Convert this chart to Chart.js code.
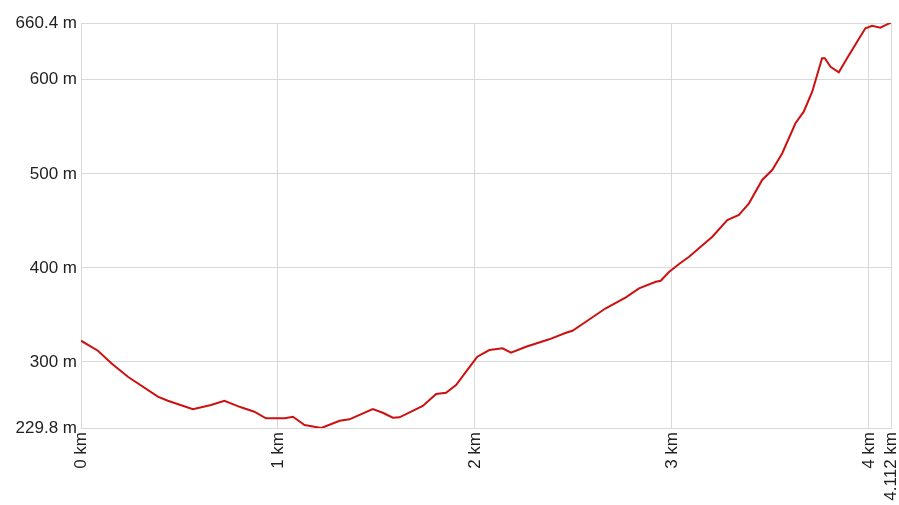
<!DOCTYPE html>
<html>
<head>
<meta charset="utf-8">
<script src="https://cdn.jsdelivr.net/npm/chart.js@4/dist/chart.umd.min.js"></script>
<style>
  html, body { margin: 0; padding: 0; background: #fff; }
  #wrap { width: 899px; height: 505px; }
</style>
</head>
<body>
<div id="wrap"><canvas id="profile"></canvas></div>
<script>
var distKm = [0, 0.086, 0.154, 0.238, 0.390, 0.441, 0.568, 0.660, 0.728, 0.812, 0.880, 0.939,
  1.034, 1.076, 1.135, 1.220, 1.313, 1.363, 1.481, 1.532, 1.583, 1.617, 1.735, 1.803, 1.853,
  1.904, 1.972, 2.012, 2.073, 2.140, 2.183, 2.259, 2.377, 2.462, 2.495, 2.563, 2.664, 2.766,
  2.833, 2.918, 2.943, 2.985, 3.036, 3.087, 3.205, 3.281, 3.340, 3.391, 3.458, 3.509, 3.560,
  3.627, 3.669, 3.712, 3.762, 3.776, 3.805, 3.847, 3.889, 3.940, 3.982, 4.016, 4.058, 4.100, 4.112];
var elevM = [322.6, 312.0, 298.6, 284.3, 263.1, 258.8, 249.7, 254.2, 258.8, 251.8, 247.1, 240.1,
  240.1, 241.8, 233.0, 229.8, 237.5, 239.0, 250.0, 246.0, 240.7, 241.2, 253.2, 265.9, 267.3,
  275.5, 294.6, 305.6, 312.7, 314.5, 309.8, 316.2, 324.1, 331.1, 333.2, 342.8, 357.1, 368.7,
  378.3, 385.3, 386.4, 395.6, 404.2, 411.9, 433.2, 450.9, 456.3, 468.7, 493.5, 504.1, 521.9,
  553.8, 566.1, 587.4, 622.9, 622.9, 613.9, 608.0, 622.9, 640.5, 654.8, 657.5, 655.4, 659.7, 660.4];
var xTicks = [0, 1, 2, 3, 4, 4.112];
var yTicks = [229.8, 300, 400, 500, 600, 660.4];

var points = distKm.map(function (d, i) { return { x: d, y: elevM[i] }; });

function fixedTicks(list) {
    return function (scale) {
        scale.ticks = list.map(function (v) { return { value: v }; });
    };
}

new Chart(document.getElementById('profile'), {
    type: 'line',
    data: {
        datasets: [{ data: points, borderColor: '#cc1111', borderWidth: 2, pointRadius: 0, tension: 0, fill: false }]
    },
    options: {
        responsive: true,
        maintainAspectRatio: false,
        animation: false,
        layout: { padding: { top: 23, right: 8, left: 0, bottom: 0 } },
        plugins: { legend: { display: false }, tooltip: { enabled: false } },
        scales: {
            x: {
                type: 'linear', min: 0, max: 4.112,
                afterBuildTicks: fixedTicks(xTicks),
                afterFit: function (scale) { scale.height = 77; scale.paddingLeft = 0; scale.paddingRight = 0; },
                grid: { color: '#d9d9d9', drawTicks: false },
                border: { color: '#d9d9d9' },
                ticks: {
                    autoSkip: false, minRotation: 90, maxRotation: 90, padding: 4,
                    color: '#222', font: { family: 'Liberation Sans', size: 17 },
                    callback: function (v) { return v + ' km'; }
                }
            },
            y: {
                min: 229.8, max: 660.4,
                afterBuildTicks: fixedTicks(yTicks),
                afterFit: function (scale) { scale.width = 81; scale.paddingTop = 0; scale.paddingBottom = 0; },
                grid: { color: '#d9d9d9', drawTicks: false },
                border: { color: '#d9d9d9' },
                ticks: {
                    padding: 4, color: '#222', font: { family: 'Liberation Sans', size: 17 },
                    callback: function (v) { return v + ' m'; }
                }
            }
        }
    }
});
</script>
</body>
</html>
